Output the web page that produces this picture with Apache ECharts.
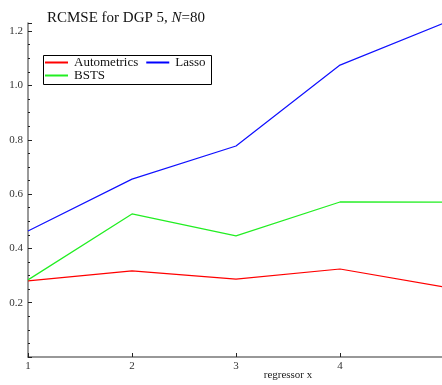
<!DOCTYPE html>
<html><head><meta charset="utf-8">
<script src="https://cdn.jsdelivr.net/npm/echarts@6/dist/echarts.min.js"></script>
<style>html,body{margin:0;padding:0;background:#fff}#c{width:442px;height:385px}</style>
</head><body><div id="c"></div>
<script>
var xValues = [1, 2, 3, 4, 5];
var autometrics = [0.280, 0.317, 0.287, 0.324, 0.258];
var lasso = [0.464, 0.655, 0.777, 1.075, 1.230];
var bsts = [0.284, 0.527, 0.446, 0.571, 0.570];
var FONT = '"Liberation Serif", "DejaVu Serif", serif';

function pairs(vals){ return xValues.map(function(x,i){return [x, vals[i]];}); }

var chart = echarts.init(document.getElementById('c'), null, {renderer:'canvas'});
chart.setOption({
  animation:false,
  backgroundColor:'#fff',
  textStyle:{fontFamily:FONT},
  title:{
    text:'{a|RCMSE for DGP 5, }{i|N}{a|=80}',
    left:42, top:6,
    textStyle:{fontWeight:'normal', rich:{
      a:{fontFamily:FONT, fontSize:15, fontWeight:'normal', color:'#111'},
      i:{fontFamily:FONT, fontSize:15, fontStyle:'italic', fontWeight:'normal', color:'#111'}
    }}
  },
  legend:[
    {data:['Autometrics','Lasso'], left:45, top:56, orient:'horizontal', itemWidth:23, itemHeight:2, itemGap:8,
     icon:'rect', padding:0, textStyle:{fontFamily:FONT, fontSize:13, color:'#111', padding:[0,0,0,1]}},
    {data:['BSTS'], left:45, top:69, orient:'horizontal', itemWidth:23, itemHeight:2, itemGap:8,
     icon:'rect', padding:0, textStyle:{fontFamily:FONT, fontSize:13, color:'#111', padding:[0,0,0,1]}}
  ],
  graphic:[{type:'rect', left:41, top:53, shape:{width:168, height:29}, style:{fill:'none', stroke:'#000', lineWidth:1}, silent:true}],
  grid:{left:28, right:-2, top:23, bottom:28, containLabel:false, outerBoundsMode:'none'},
  xAxis:{
    type:'value', min:1, max:5, interval:1,
    name:'regressor x', nameLocation:'middle', nameGap:13, nameMoveOverlap:false,
    nameTextStyle:{fontFamily:FONT, fontSize:11, color:'#222', padding:[0,0,0,104]},
    axisLine:{lineStyle:{color:'#777', width:1.5}},
    axisTick:{inside:true, length:4, lineStyle:{color:'#222'}},
    axisLabel:{fontFamily:FONT, fontSize:11, color:'#333', margin:4,
      formatter:function(v){ return (Math.abs(v-Math.round(v))<1e-6 && v<4.9) ? String(Math.round(v)) : ''; }},
    splitLine:{show:false}
  },
  yAxis:{
    type:'value', min:0, max:1.23, interval:0.2,
    axisLine:{show:true, lineStyle:{color:'#777', width:1.5}},
    axisTick:{inside:true, length:4, lineStyle:{color:'#222'}},
    minorTick:{show:true, splitNumber:4, length:2, lineStyle:{color:'#222'}},
    axisLabel:{fontFamily:FONT, fontSize:11, color:'#333', margin:5,
      formatter:function(v){ var r=Math.round(v*10)/10; if (v<0.01 || Math.abs(v/0.2-Math.round(v/0.2))>1e-6) return ''; return r.toFixed(1); }},
    splitLine:{show:false}
  },
  series:[
    {name:'Autometrics', type:'line', data:pairs(autometrics), symbol:'none', color:'#ff0000', lineStyle:{width:1.2, color:'#ff0000'}},
    {name:'Lasso', type:'line', data:pairs(lasso), symbol:'none', color:'#0000ff', lineStyle:{width:1.2, color:'#1010ff'}},
    {name:'BSTS', type:'line', data:pairs(bsts), symbol:'none', color:'#22ee22', lineStyle:{width:1.2, color:'#22ee22'}}
  ]
});
</script></body></html>
